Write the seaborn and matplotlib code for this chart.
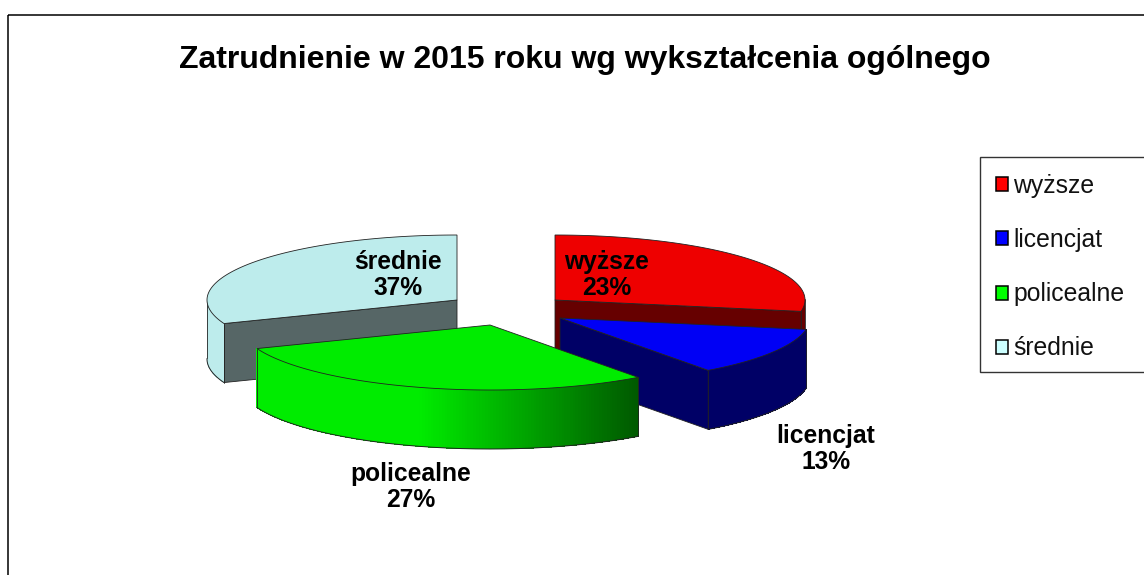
import numpy as np
import matplotlib
matplotlib.use("Agg")
import matplotlib.pyplot as plt
from matplotlib.patches import Polygon, Rectangle, Patch
from matplotlib.colors import to_rgb
import seaborn as sns

# --- data ---
title_text = "Zatrudnienie w 2015 roku wg wykształcenia ogólnego"
categories = ["wyższe", "licencjat", "policealne", "średnie"]
percent_labels = [23, 13, 27, 37]
# share of the circle each slice occupies as drawn in the picture (percent)
drawn_shares = [27.8, 12.1, 29.2, 30.9]

# --- style ---
sns.set_theme(style="white")
plt.rcParams["font.family"] = ["Liberation Sans", "DejaVu Sans"]
top_colors = sns.color_palette(["#EE0000", "#0000F5", "#00EC00", "#BDECEC"])
legend_colors = sns.color_palette(["#FF0000", "#0000FF", "#00FF00", "#CCFFFF"])
inner_colors = ["#660000", "#000066", "#006600", "#566666"]
outer_colors = ["#660000", "#000066", "#00EC00", "#BDECEC"]

# --- layout (pixel space of the figure) ---
RX, RY, DEPTH = 250, 65, 59
apex = [(555, 300), (560, 318), (490, 325), (457, 300)]
label_pos = [(607, 275), (826, 449), (411, 487), (398, 275)]
EDGE = "#222222"

fig = plt.figure(figsize=(11.44, 5.75), dpi=100, facecolor="white")
ax = fig.add_axes([0, 0, 1, 1])
ax.set_xlim(0, 1144)
ax.set_ylim(575, 0)
ax.axis("off")

# outer chart frame, running off the right and bottom edges
ax.add_patch(Rectangle((8, 14.5), 1200, 600, fill=False, ec="black", lw=1.1, zorder=1))

def point(c, theta):
    return c[0] + RX * np.sin(theta), c[1] - RY * np.cos(theta)

edges = np.radians(np.r_[0, np.cumsum(drawn_shares)] * 3.6)
draw_order = [3, 0, 1, 2]
z = 2
for i in draw_order:
    c = apex[i]
    t = np.linspace(edges[i], edges[i + 1], 160)
    xs, ys = point(c, t)
    # radial wall visible from the front
    for end in (edges[i + 1], edges[i]):
        ex, ey = point(c, end)
        if (i == 3 and end == edges[i]) or (i in (0, 1) and end == edges[i + 1]):
            ax.add_patch(Polygon([c, (ex, ey), (ex, ey + DEPTH), (c[0], c[1] + DEPTH)],
                                 fc=inner_colors[i], ec=EDGE, lw=0.6, zorder=z))
            z += 1
    # outer curved wall, only where it faces the viewer
    vis = np.cos(t) <= 0.02
    idx = np.flatnonzero(vis)
    for k in idx[:-1]:
        col = np.array(to_rgb(outer_colors[i]))
        if i == 2:
            mix = np.clip((xs[k] - 420) / (637 - 420), 0, 1)
            col = (1 - mix) * np.array(to_rgb("#00EC00")) + mix * np.array(to_rgb("#005A00"))
        n = min(k + 2, idx[-1])
        ax.add_patch(Polygon([(xs[k], ys[k]), (xs[n], ys[n]),
                              (xs[n], ys[n] + DEPTH), (xs[k], ys[k] + DEPTH)],
                             fc=col, ec="none", lw=0, antialiased=False, zorder=z))
    z += 1
    if vis.any():
        ax.plot(xs[vis], ys[vis] + DEPTH, color=EDGE, lw=0.7, zorder=z)
        ax.plot([xs[vis][0]] * 2, [ys[vis][0], ys[vis][0] + DEPTH], color=EDGE, lw=0.6, zorder=z)
        ax.plot([xs[vis][-1]] * 2, [ys[vis][-1], ys[vis][-1] + DEPTH], color=EDGE, lw=0.6, zorder=z)
    # top face
    ax.add_patch(Polygon(np.r_[[c], np.c_[xs, ys]], closed=True, fc=top_colors[i],
                         ec=EDGE, lw=0.6, zorder=z + 1))
    z += 2

# slice labels
for name, pct, pos in zip(categories, percent_labels, label_pos):
    ax.text(pos[0], pos[1], f"{name}\n{pct}%", ha="center", va="center", fontsize=17.7,
            fontweight="bold", color="black", linespacing=1.12, zorder=50)

ax.text(585, 60, title_text, ha="center", va="center", fontsize=23,
        fontweight="bold", color="black", zorder=50)

# legend
ax.add_patch(Rectangle((979.5, 156.5), 300, 215, fc="white", ec="#333333", lw=1.0, zorder=40))
handles = [Patch(fc=c, ec="black", lw=1.1) for c in legend_colors]
leg = ax.legend(handles, categories, loc="upper left", bbox_to_anchor=(996, 174),
                bbox_transform=ax.transData, frameon=False, fontsize=17.8,
                handlelength=0.5, handleheight=0.5, handletextpad=0.2,
                labelspacing=1.22, borderpad=0, borderaxespad=0)
leg.set_zorder(60)
for t in leg.get_texts():
    t.set_color("#111111")

fig.savefig("out.png", dpi=100)
